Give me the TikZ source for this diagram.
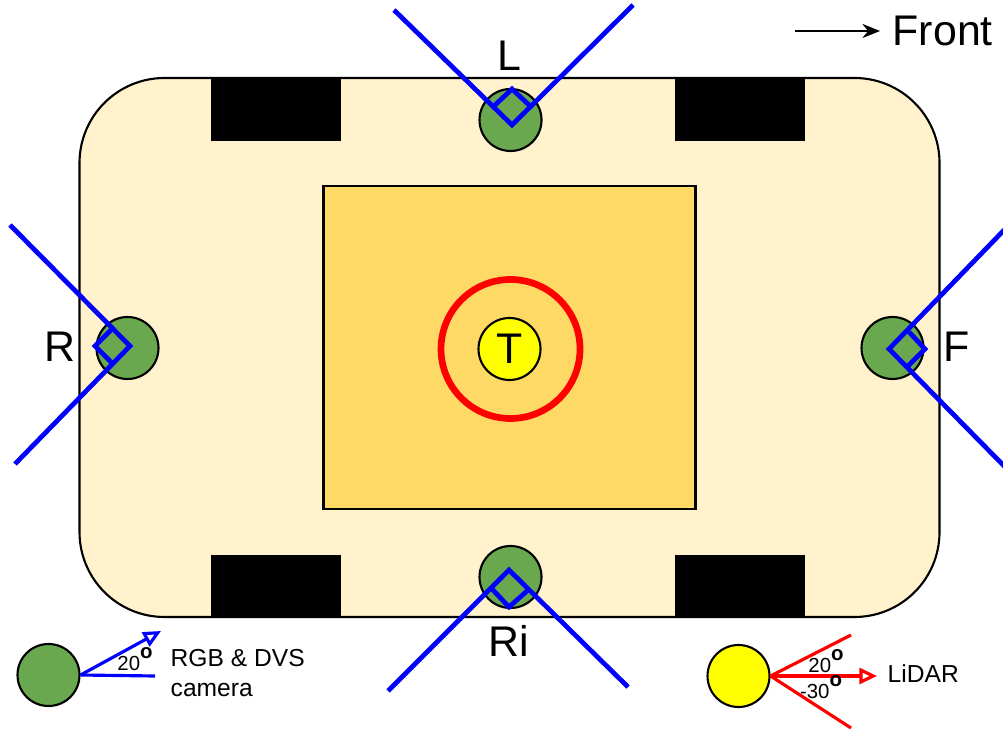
\documentclass[tikz,border=0pt]{standalone}
\usepackage{fontspec}
\setmainfont{Liberation Sans}
\usetikzlibrary{arrows.meta}
\newcommand{\bigfont}{\fontsize{12.2}{14.6}\selectfont}
\newcommand{\smallfont}{\fontsize{7}{8.5}\selectfont}
\newcommand{\anglefont}{\fontsize{5.8}{7}\selectfont}
\newcommand{\degmark}{\raisebox{1.15ex}{\bfseries o}}

\begin{document}
\begin{tikzpicture}[
    outline/.style={line width=.6pt, draw=black},
    sensor/.style={circle, outline, fill=sensorgreen, minimum size=.62cm, inner sep=0pt},
    lidar/.style={circle, outline, fill=lidaryellow, minimum size=.62cm, inner sep=0pt},
    fov/.style={draw=blue, line width=1.35pt, line join=miter},
    legendline/.style={line width=.9pt},
    wheel/.style={fill=black},
    biglabel/.style={font=\bigfont, inner sep=0pt},
    smalllabel/.style={font=\smallfont, inner sep=0pt, align=left},
    anglelabel/.style={font=\anglefont, inner sep=0pt}
  ]
  \definecolor{sensorgreen}{HTML}{6AA84F}
  \definecolor{bodycream}{HTML}{FFF2CC}
  \definecolor{cabin}{HTML}{FFD966}
  \definecolor{lidaryellow}{HTML}{FFFF00}
  \useasboundingbox (0,0) rectangle (10.03,7.28);

  % vehicle body, wheels and roof
  \draw[outline, fill=bodycream, rounded corners=.85cm] (.795,1.11) rectangle (9.395,6.50);
  \fill[wheel] (2.105,5.87) rectangle (3.41,6.50);
  \fill[wheel] (6.745,5.87) rectangle (8.05,6.50);
  \fill[wheel] (2.105,1.11) rectangle (3.41,1.73);
  \fill[wheel] (6.745,1.11) rectangle (8.05,1.73);
  \draw[outline, fill=cabin] (3.235,2.19) rectangle (6.955,5.42);

  % top lidar with its ring
  \draw[red, line width=1.9pt] (5.105,3.79) circle (.695);
  \node[lidar, font=\bigfont] (top) at (5.095,3.79) {T};

  % cameras
  \node[sensor] (left) at (5.105,6.08) {};
  \node[sensor] (right) at (5.105,1.51) {};
  \node[sensor] (rear) at (1.275,3.80) {};
  \node[sensor] (front) at (8.925,3.80) {};

  % left field of view
  \coordinate (leftA) at (3.94,7.18);
  \coordinate (leftB) at (6.33,7.23);
  \coordinate (leftV) at (5.12,6.03);
  \coordinate (leftC) at (4.93,6.21);
  \coordinate (leftD) at (5.12,6.39);
  \coordinate (leftE) at (5.30,6.22);
  \draw[fov] (leftA) -- (leftV) -- (leftB);
  \draw[fov] (leftC) -- (leftD) -- (leftE);

  % right field of view
  \coordinate (rightA) at (3.88,.37);
  \coordinate (rightB) at (6.28,.41);
  \coordinate (rightV) at (5.09,1.58);
  \coordinate (rightC) at (4.92,1.39);
  \coordinate (rightD) at (5.09,1.21);
  \coordinate (rightE) at (5.27,1.37);
  \draw[fov] (rightA) -- (rightV) -- (rightB);
  \draw[fov] (rightC) -- (rightD) -- (rightE);

  % rear field of view
  \coordinate (rearA) at (.10,5.03);
  \coordinate (rearB) at (.15,2.64);
  \coordinate (rearV) at (1.30,3.82);
  \coordinate (rearC) at (1.13,4.00);
  \coordinate (rearD) at (.95,3.82);
  \coordinate (rearE) at (1.12,3.65);
  \draw[fov] (rearA) -- (rearV) -- (rearB);
  \draw[fov] (rearC) -- (rearD) -- (rearE);

  % front field of view
  \coordinate (frontA) at (10.08,5.02);
  \coordinate (frontB) at (10.08,2.58);
  \coordinate (frontV) at (8.89,3.79);
  \coordinate (frontC) at (9.09,3.96);
  \coordinate (frontD) at (9.25,3.79);
  \coordinate (frontE) at (9.08,3.62);
  \draw[fov] (frontA) -- (frontV) -- (frontB);
  \draw[fov] (frontC) -- (frontD) -- (frontE);

  % side letters
  \node[biglabel] (leftname) at (5.09,6.72) {L};
  \node[biglabel] (rightname) at (5.09,.87) {Ri};
  \node[biglabel] (rearname) at (.60,3.81) {R};
  \node[biglabel] (frontname) at (9.57,3.81) {F};

  % driving direction
  \node[biglabel, anchor=west] (heading) at (8.92,6.97) {Front};
  \coordinate (headingtail) at (7.95,6.97);
  \draw[-{Stealth[length=5pt,width=4pt]}, line width=.6pt, shorten >=.12cm] (headingtail) -- (heading);

  % camera legend
  \node[sensor] (camkey) at (.485,.53) {};
  \coordinate (camup) at (1.61,.97);
  \coordinate (camflat) at (1.55,.52);
  \draw[blue, legendline, -{Triangle[open,length=5pt,width=4.5pt]}] (camkey.east) -- (camup);
  \draw[blue, legendline] (camkey.east) -- (camflat);
  \node[anglelabel] (camangle) at (1.35,.69) {20\degmark};
  \node[smalllabel, anchor=west] (camtext) at (1.70,.55) {RGB \& DVS\\camera};

  % lidar legend
  \node[lidar] (lidarkey) at (7.385,.52) {};
  \coordinate (lidarup) at (8.51,.93);
  \coordinate (lidardown) at (8.51,0);
  \coordinate (lidarmid) at (8.77,.52);
  \draw[red, legendline] (lidarkey.east) -- (lidarup);
  \draw[red, legendline] (lidarkey.east) -- (lidardown);
  \draw[red, legendline, -{Triangle[open,length=5pt,width=4.5pt]}] (lidarkey.east) -- (lidarmid);
  \node[anglelabel] (lidarangleA) at (8.26,.67) {20\degmark};
  \node[anglelabel] (lidarangleB) at (8.21,.41) {-30\degmark};
  \node[smalllabel, anchor=west] (lidartext) at (8.87,.54) {LiDAR};
\end{tikzpicture}
\end{document}
